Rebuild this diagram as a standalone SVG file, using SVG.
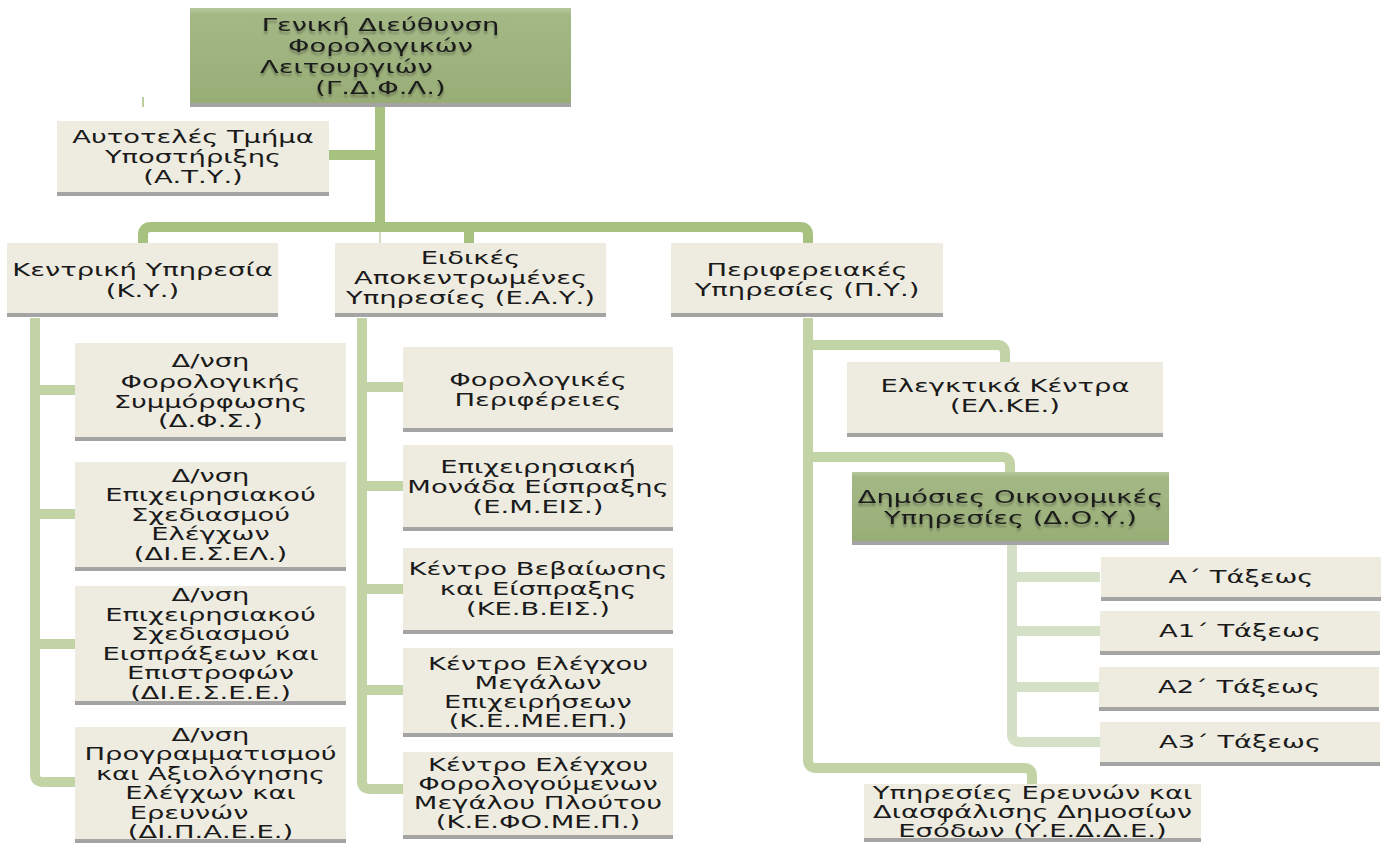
<svg xmlns="http://www.w3.org/2000/svg" width="1385" height="843" viewBox="0 0 1385 843">
<defs>
<linearGradient id="gGreen" x1="0" y1="0" x2="0" y2="1">
<stop offset="0" stop-color="#b7c89c"/>
<stop offset="0.07" stop-color="#a4b886"/>
<stop offset="1" stop-color="#98ad76"/>
</linearGradient>
<filter id="ghost" x="-10%" y="-30%" width="120%" height="180%">
<feGaussianBlur in="SourceAlpha" stdDeviation="0.8" result="b"/>
<feOffset in="b" dy="3" result="o"/>
<feComponentTransfer in="o" result="s"><feFuncA type="linear" slope="0.3"/></feComponentTransfer>
<feMerge><feMergeNode in="s"/><feMergeNode in="SourceGraphic"/></feMerge>
</filter>
</defs>
<style>
.box{fill:#eeece1}
.gbox{fill:url(#gGreen)}
.sh{fill:#a4a4a4}
.t{font-family:"DejaVu Sans","Noto Sans",sans-serif;font-size:18px;fill:#1a1a1a;text-anchor:middle}
.tg{filter:url(#ghost)}
.c1{fill:none;stroke:#a7c17e;stroke-width:10}
.c2{fill:none;stroke:#c2d4a5;stroke-width:10}
.c3{fill:none;stroke:#d5e1c6;stroke-width:10}
</style>

<g id="connectors">
<line x1="143" y1="97" x2="143" y2="107" stroke="#bccf9e" stroke-width="2"/>
<path class="c1" d="M380,103 V227"/>
<path class="c1" d="M380,155 H329"/>
<path class="c1" d="M143,243 V235 Q143,227 151,227 H800 Q808,227 808,235 V243"/>
<path class="c1" d="M469,227 V243"/>
<line x1="380" y1="232" x2="380" y2="243" stroke="#d3ddc5" stroke-width="2"/>
<path class="c2" d="M35,318 V774 Q35,782 43,782 H75"/>
<path class="c2" d="M35,390 H75 M35,514 H75 M35,644 H75"/>
<path class="c2" d="M362,318 V781 Q362,789 370,789 H403"/>
<path class="c2" d="M362,387 H403 M362,486 H403 M362,589 H403 M362,690 H403"/>
<path class="c2" d="M808,318 V760 Q808,768 816,768 H1024 Q1032,768 1032,776 V784"/>
<path class="c2" d="M808,345 H997 Q1005,345 1005,353 V362"/>
<path class="c2" d="M808,457 H1002 Q1010,457 1010,465 V472"/>
<path class="c3" d="M1012,541 V734 Q1012,742 1020,742 H1100"/>
<path class="c3" d="M1012,577 H1100 M1012,631 H1100 M1012,687 H1100"/>
</g>

<g id="gdfl">
<rect class="sh" x="190" y="12" width="381" height="95"/>
<rect class="gbox" x="190" y="8" width="381" height="95"/>
<text class="t tg" transform="translate(380.5,0) scale(1.52,1)"><tspan x="0" y="31">Γενική Διεύθυνση</tspan><tspan x="0" y="52">Φορολογικών</tspan><tspan x="-22.4" y="73">Λειτουργιών</tspan><tspan x="0" y="94">(Γ.Δ.Φ.Λ.)</tspan></text>
</g>

<g id="aty">
<rect class="sh" x="57" y="125" width="272" height="71"/>
<rect class="box" x="57" y="121" width="272" height="71"/>
<text class="t" transform="translate(193,0) scale(1.52,1)"><tspan x="0" y="143">Αυτοτελές Τμήμα</tspan><tspan x="0" y="163">Υποστήριξης</tspan><tspan x="0" y="183">(Α.Τ.Υ.)</tspan></text>
</g>

<g id="ky">
<rect class="sh" x="7" y="247" width="271" height="70"/>
<rect class="box" x="7" y="243" width="271" height="70"/>
<text class="t" transform="translate(142.5,0) scale(1.52,1)"><tspan x="0" y="276">Κεντρική Υπηρεσία</tspan><tspan x="0" y="297">(Κ.Υ.)</tspan></text>
</g>

<g id="eay">
<rect class="sh" x="335" y="247" width="271" height="70"/>
<rect class="box" x="335" y="243" width="271" height="70"/>
<text class="t" transform="translate(470.5,0) scale(1.52,1)"><tspan x="0" y="264">Ειδικές</tspan><tspan x="0" y="284">Αποκεντρωμένες</tspan><tspan x="0" y="304">Υπηρεσίες (Ε.Α.Υ.)</tspan></text>
</g>

<g id="py">
<rect class="sh" x="671" y="247" width="272" height="70"/>
<rect class="box" x="671" y="243" width="272" height="70"/>
<text class="t" transform="translate(807,0) scale(1.52,1)"><tspan x="0" y="276">Περιφερειακές</tspan><tspan x="0" y="296">Υπηρεσίες (Π.Υ.)</tspan></text>
</g>

<g id="dfs">
<rect class="sh" x="75" y="347" width="271" height="94"/>
<rect class="box" x="75" y="343" width="271" height="94"/>
<text class="t" transform="translate(210.5,0) scale(1.52,1)"><tspan x="0" y="367">Δ/νση</tspan><tspan x="0" y="388">Φορολογικής</tspan><tspan x="0" y="408">Συμμόρφωσης</tspan><tspan x="0" y="427">(Δ.Φ.Σ.)</tspan></text>
</g>

<g id="diesel">
<rect class="sh" x="75" y="466" width="271" height="105"/>
<rect class="box" x="75" y="462" width="271" height="105"/>
<text class="t" transform="translate(210.5,0) scale(1.52,1)"><tspan x="0" y="482">Δ/νση</tspan><tspan x="0" y="501.5">Επιχειρησιακού</tspan><tspan x="0" y="521">Σχεδιασμού</tspan><tspan x="0" y="540.5">Ελέγχων</tspan><tspan x="0" y="560">(ΔΙ.Ε.Σ.ΕΛ.)</tspan></text>
</g>

<g id="diesee">
<rect class="sh" x="75" y="590" width="271" height="115"/>
<rect class="box" x="75" y="586" width="271" height="115"/>
<text class="t" transform="translate(210.5,0) scale(1.52,1)"><tspan x="0" y="601.5">Δ/νση</tspan><tspan x="0" y="621">Επιχειρησιακού</tspan><tspan x="0" y="640.5">Σχεδιασμού</tspan><tspan x="0" y="660">Εισπράξεων και</tspan><tspan x="0" y="679.5">Επιστροφών</tspan><tspan x="0" y="699">(ΔΙ.Ε.Σ.Ε.Ε.)</tspan></text>
</g>

<g id="dipaee">
<rect class="sh" x="75" y="731" width="271" height="112"/>
<rect class="box" x="75" y="727" width="271" height="112"/>
<text class="t" transform="translate(210.5,0) scale(1.52,1)"><tspan x="0" y="741">Δ/νση</tspan><tspan x="0" y="760.5">Προγραμματισμού</tspan><tspan x="0" y="780">και Αξιολόγησης</tspan><tspan x="0" y="799.5">Ελέγχων και</tspan><tspan x="-14.1" y="819">Ερευνών</tspan><tspan x="0" y="838">(ΔΙ.Π.Α.Ε.Ε.)</tspan></text>
</g>

<g id="fp">
<rect class="sh" x="403" y="351" width="270" height="81"/>
<rect class="box" x="403" y="347" width="270" height="81"/>
<text class="t" transform="translate(538,0) scale(1.52,1)"><tspan x="0" y="386">Φορολογικές</tspan><tspan x="0" y="406">Περιφέρειες</tspan></text>
</g>

<g id="emeis">
<rect class="sh" x="403" y="449" width="270" height="82"/>
<rect class="box" x="403" y="445" width="270" height="82"/>
<text class="t" transform="translate(538,0) scale(1.52,1)"><tspan x="0" y="473.5">Επιχειρησιακή</tspan><tspan x="0" y="493.5">Μονάδα Είσπραξης</tspan><tspan x="0" y="513.5">(Ε.Μ.ΕΙΣ.)</tspan></text>
</g>

<g id="kebeis">
<rect class="sh" x="403" y="552" width="270" height="82"/>
<rect class="box" x="403" y="548" width="270" height="82"/>
<text class="t" transform="translate(538,0) scale(1.52,1)"><tspan x="0" y="575.5">Κέντρο Βεβαίωσης</tspan><tspan x="0" y="595.5">και Είσπραξης</tspan><tspan x="0" y="615.5">(ΚΕ.Β.ΕΙΣ.)</tspan></text>
</g>

<g id="kemeep">
<rect class="sh" x="403" y="652" width="270" height="85"/>
<rect class="box" x="403" y="648" width="270" height="85"/>
<text class="t" transform="translate(538,0) scale(1.52,1)"><tspan x="0" y="670.5">Κέντρο Ελέγχου</tspan><tspan x="0" y="689.5">Μεγάλων</tspan><tspan x="0" y="708.5">Επιχειρήσεων</tspan><tspan x="0" y="727.5">(Κ.Ε..ΜΕ.ΕΠ.)</tspan></text>
</g>

<g id="kefomep">
<rect class="sh" x="403" y="756" width="270" height="83"/>
<rect class="box" x="403" y="752" width="270" height="83"/>
<text class="t" transform="translate(538,0) scale(1.52,1)"><tspan x="0" y="771.5">Κέντρο Ελέγχου</tspan><tspan x="0" y="790.5">Φορολογούμενων</tspan><tspan x="0" y="809.5">Μεγάλου Πλούτου</tspan><tspan x="0" y="828.5">(Κ.Ε.ΦΟ.ΜΕ.Π.)</tspan></text>
</g>

<g id="elke">
<rect class="sh" x="847" y="366" width="316" height="71"/>
<rect class="box" x="847" y="362" width="316" height="71"/>
<text class="t" transform="translate(1005,0) scale(1.52,1)"><tspan x="0" y="392.5">Ελεγκτικά Κέντρα</tspan><tspan x="0" y="412.5">(ΕΛ.ΚΕ.)</tspan></text>
</g>

<g id="doy">
<rect class="sh" x="852" y="476" width="317" height="69"/>
<rect class="gbox" x="852" y="472" width="317" height="69"/>
<text class="t tg" transform="translate(1010.5,0) scale(1.52,1)"><tspan x="0" y="503.5">Δημόσιες Οικονομικές</tspan><tspan x="0" y="524.5">Υπηρεσίες (Δ.Ο.Υ.)</tspan></text>
</g>

<g id="a">
<rect class="sh" x="1101" y="561" width="280" height="40"/>
<rect class="box" x="1101" y="557" width="280" height="40"/>
<text class="t" transform="translate(1241,0) scale(1.52,1)"><tspan x="0" y="583.5">Α΄ Τάξεως</tspan></text>
</g>

<g id="a1">
<rect class="sh" x="1100" y="615" width="280" height="40"/>
<rect class="box" x="1100" y="611" width="280" height="40"/>
<text class="t" transform="translate(1240,0) scale(1.52,1)"><tspan x="0" y="637.5">Α1΄ Τάξεως</tspan></text>
</g>

<g id="a2">
<rect class="sh" x="1099" y="671" width="280" height="40"/>
<rect class="box" x="1099" y="667" width="280" height="40"/>
<text class="t" transform="translate(1239,0) scale(1.52,1)"><tspan x="0" y="693.5">Α2΄ Τάξεως</tspan></text>
</g>

<g id="a3">
<rect class="sh" x="1100" y="726" width="280" height="40"/>
<rect class="box" x="1100" y="722" width="280" height="40"/>
<text class="t" transform="translate(1240,0) scale(1.52,1)"><tspan x="0" y="748.5">Α3΄ Τάξεως</tspan></text>
</g>

<g id="yedde">
<rect class="sh" x="864" y="788" width="337" height="54"/>
<rect class="box" x="864" y="784" width="337" height="54"/>
<text class="t" transform="translate(1032.5,0) scale(1.52,1)"><tspan x="0" y="799.5">Υπηρεσίες Ερευνών και</tspan><tspan x="0" y="818.5">Διασφάλισης Δημοσίων</tspan><tspan x="0" y="837.5">Εσόδων (Υ.Ε.Δ.Δ.Ε.)</tspan></text>
</g>
</svg>
